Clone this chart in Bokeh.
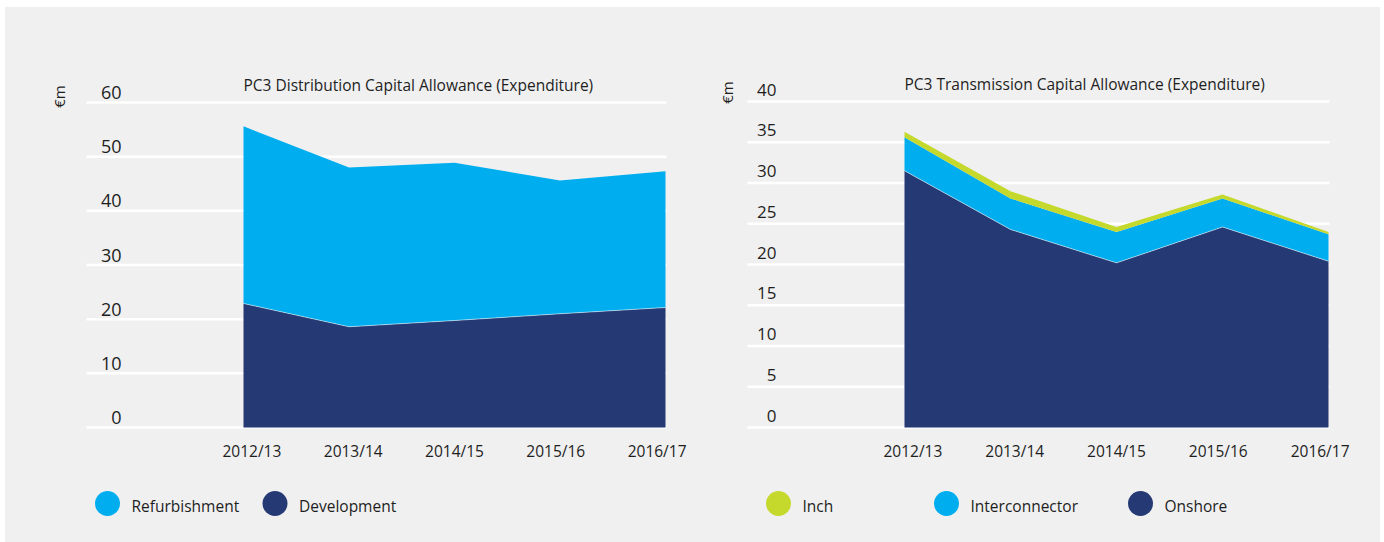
import math
from bokeh.plotting import figure
from bokeh.layouts import row
from bokeh.models import ColumnDataSource, Range1d, Label, LabelSet
from bokeh.core.properties import value
from bokeh.embed import file_html
from bokeh.resources import INLINE

# ---------------- data ----------------
years = ["2012/13", "2013/14", "2014/15", "2015/16", "2016/17"]

dist_development = [22.9, 18.6, 19.75, 21.0, 22.15]
dist_refurbishment = [32.7, 29.4, 29.15, 24.6, 25.15]
dist_ticks = [0, 10, 20, 30, 40, 50, 60]

trans_onshore = [31.5, 24.3, 20.2, 24.6, 20.4]
trans_interconnector = [4.1, 3.8, 3.8, 3.5, 3.3]
trans_inch = [0.7, 0.9, 0.6, 0.5, 0.3]
trans_ticks = [0, 5, 10, 15, 20, 25, 30, 35, 40]

dist_title = "PC3 Distribution Capital Allowance (Expenditure)"
trans_title = "PC3 Transmission Capital Allowance (Expenditure)"
unit_label = "€m"

# ---------------- style ----------------
BG = "#f0f0f0"
CYAN = "#00aeef"
NAVY = "#253974"
LIME = "#c5d92d"
TXT = "#1e1e1e"
FONT = "Open Sans"

TOP = 7          # page y of the figures' top edge
LEFT = 5         # page x of the left figure
H = 535
LEGEND_Y = 503   # page y of the legend row
LABEL_SQUEEZE = -4.2  # px per category: tick labels sit slightly closer together


def make_panel(fig_left, width, x0_px, dx_px, y0_px, dy_px, grid_px, ticks, series,
               title, tick_font, tick_right_px, tick_dy, unit_px, legend_px):
    # map page pixels to data units (the frame fills the whole figure)
    def X(px):
        return (px - x0_px) / dx_px

    def Y(py):
        return (y0_px - py) / dy_px

    p = figure(width=width, height=H, output_backend="svg", toolbar_location=None,
               x_range=Range1d(X(fig_left), X(fig_left + width)),
               y_range=Range1d(Y(TOP + H), Y(TOP)),
               x_axis_location=None, y_axis_location=None, min_border=0,
               background_fill_color=BG, border_fill_color=BG,
               outline_line_color=None, title=None)
    p.xgrid.visible = False
    p.ygrid.visible = False

    # gridlines
    p.segment(x0=[X(grid_px[0])] * len(ticks), x1=[X(grid_px[1])] * len(ticks),
              y0=ticks, y1=ticks, line_color="white", line_width=2.5)

    xs = list(range(len(years)))
    data = {"x": xs}
    names = []
    for name, vals, col in series:
        data[name] = vals
        names.append(name)
    src = ColumnDataSource(data)
    p.varea_stack(stackers=names, x="x", color=[c for _, _, c in series], source=src)
    p.line(x=xs, y=series[0][1], line_color="white", line_alpha=0.5, line_width=1)

    # x tick labels
    mid = (len(xs) - 1) / 2
    xsrc = ColumnDataSource({"x": xs, "y": [0] * len(xs), "t": years,
                             "dx": [(i - mid) * LABEL_SQUEEZE for i in xs]})
    p.add_layout(LabelSet(x="x", y="y", text="t", source=xsrc, x_offset="dx",
                          y_offset=-12, text_align="center", text_baseline="top",
                          text_font=value(FONT), text_font_size="15.5px",
                          text_color=TXT))

    # y tick labels sitting above the gridlines
    tsrc = ColumnDataSource({"x": [X(tick_right_px)] * len(ticks), "y": ticks,
                             "t": [str(t) for t in ticks]})
    p.add_layout(LabelSet(x="x", y="y", text="t", source=tsrc, y_offset=tick_dy,
                          text_align="right", text_baseline="middle",
                          text_font=value(FONT), text_font_size=tick_font,
                          text_color=TXT))

    # title anchored at the first category
    p.add_layout(Label(x=0, y=ticks[-1], y_offset=17.5, text=title, text_align="left",
                       text_baseline="middle", text_font=FONT,
                       text_font_size="15.5px", text_color=TXT))

    # unit label
    p.add_layout(Label(x=X(unit_px[0]), y=Y(unit_px[1]), text=unit_label,
                       angle=math.pi / 2, text_align="center", text_baseline="middle",
                       text_font=FONT, text_font_size="15px", text_color=TXT))

    # legend: round swatches with labels
    leg_names = [s[0] for s in series[::-1]]
    leg_cols = [s[2] for s in series[::-1]]
    lsrc = ColumnDataSource({"x": [X(c) for c in legend_px],
                             "y": [Y(LEGEND_Y)] * len(legend_px),
                             "c": leg_cols, "t": leg_names})
    p.scatter(x="x", y="y", source=lsrc, marker="circle", size=25, fill_color="c",
              line_color=None)
    p.add_layout(LabelSet(x="x", y="y", text="t", source=lsrc, x_offset=24,
                          y_offset=-2.5, text_align="left", text_baseline="middle",
                          text_font=value(FONT), text_font_size="15.5px",
                          text_color=TXT))
    return p


left = make_panel(
    fig_left=LEFT, width=688, x0_px=243, dx_px=105.5, y0_px=427, dy_px=325 / 60,
    grid_px=(86, 666), ticks=dist_ticks,
    series=[("Development", dist_development, NAVY),
            ("Refurbishment", dist_refurbishment, CYAN)],
    title=dist_title, tick_font="18px", tick_right_px=121, tick_dy=10,
    unit_px=(58, 96), legend_px=[107, 274.5],
)

right = make_panel(
    fig_left=LEFT + 688, width=687, x0_px=904, dx_px=106, y0_px=427, dy_px=326 / 40,
    grid_px=(747, 1329), ticks=trans_ticks,
    series=[("Onshore", trans_onshore, NAVY),
            ("Interconnector", trans_interconnector, CYAN),
            ("Inch", trans_inch, LIME)],
    title=trans_title, tick_font="17px", tick_right_px=776, tick_dy=12,
    unit_px=(726, 92), legend_px=[778, 946, 1140],
)

layout = row(left, right, margin=(TOP, 0, 0, LEFT), styles={"background-color": BG})
open("out.html", "w").write(file_html(layout, INLINE))
